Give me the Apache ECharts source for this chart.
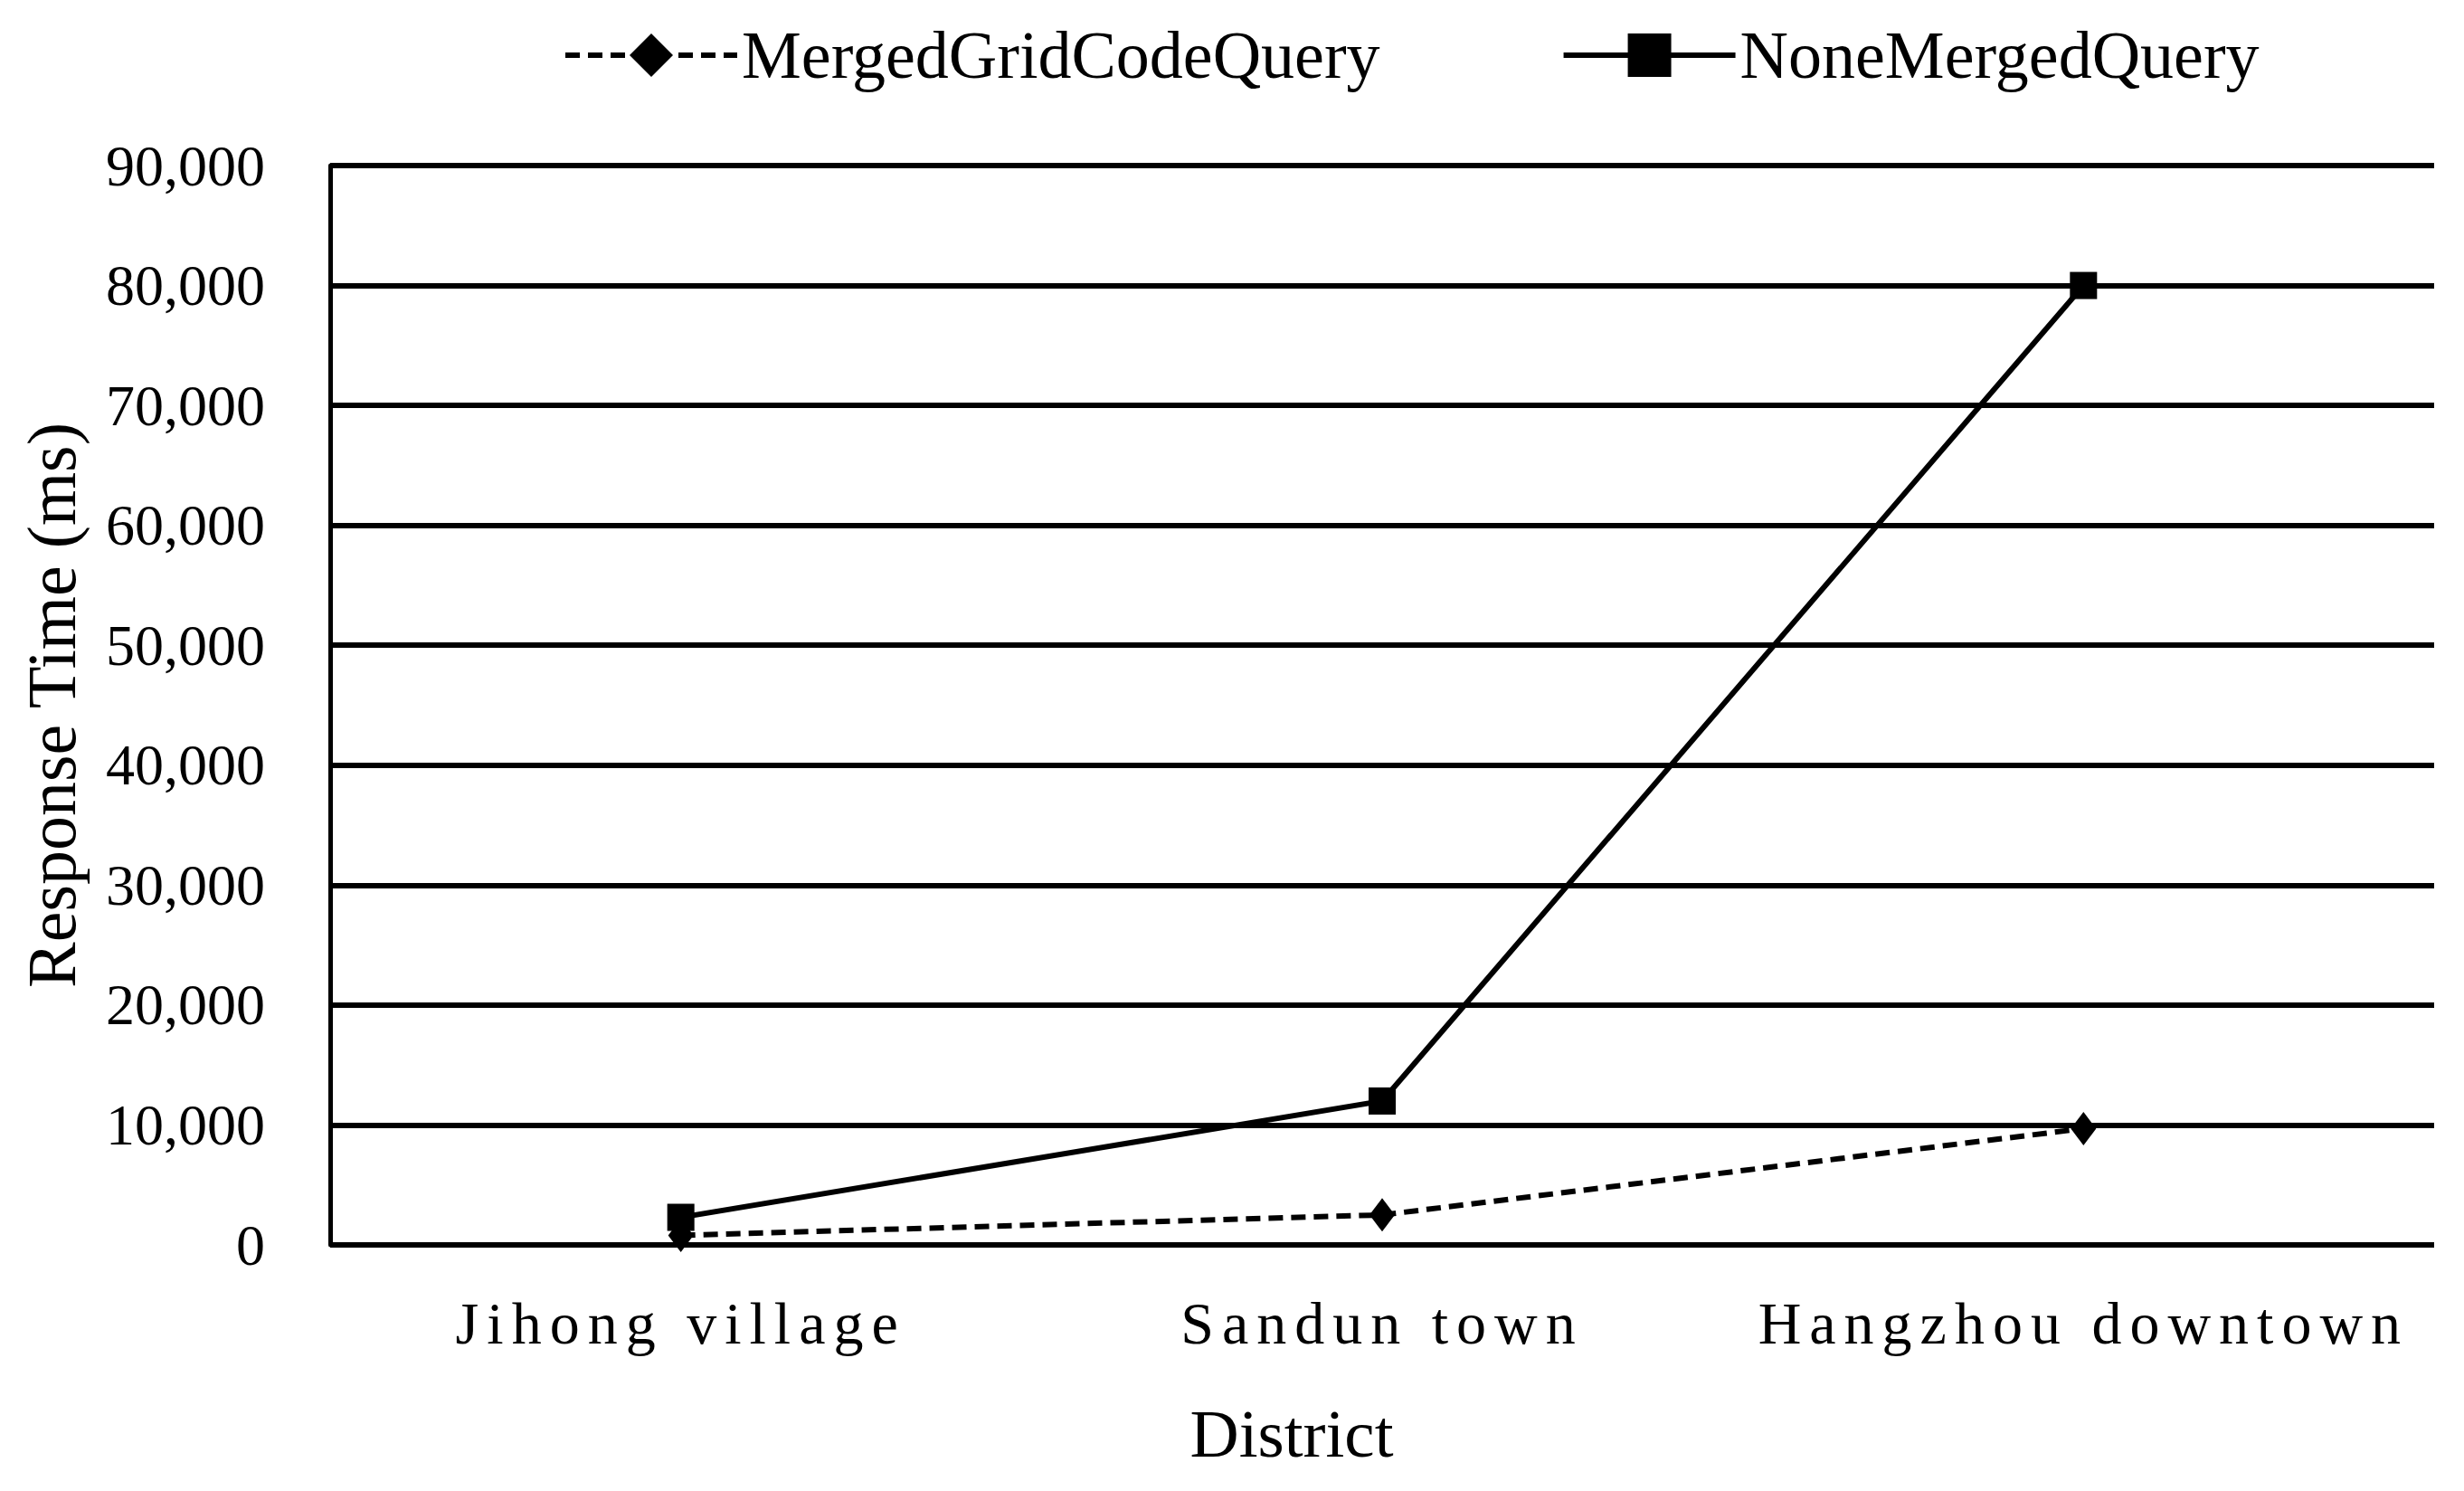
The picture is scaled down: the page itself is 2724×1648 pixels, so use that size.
<!DOCTYPE html>
<html>
<head>
<meta charset="utf-8">
<script src="https://cdn.jsdelivr.net/npm/echarts@6/dist/echarts.min.js"></script>
<style>
html,body{margin:0;padding:0;background:#fff;}
#chart{width:2724px;height:1648px;}
</style>
</head>
<body>
<div id="chart"></div>
<script>
const categories = ['Jihong village', 'Sandun town', 'Hangzhou downtown'];
const mergedGridCodeQuery = [800, 2500, 9700];
const noneMergedQuery = [2300, 12000, 80000];
const seriesNames = ['MergedGridCodeQuery', 'NoneMergedQuery'];
const yAxisTitle = 'Response Time (ms)';
const xAxisTitle = 'District';

const FONT = '"Liberation Serif", "Times New Roman", serif';
const chart = echarts.init(document.getElementById('chart'), null, {renderer: 'svg'});

chart.setOption({
  backgroundColor: '#ffffff',
  animation: false,
  legend: {
    left: 617,
    top: 19,
    itemWidth: 190,
    itemHeight: 60,
    itemGap: 200,
    lineStyle: {width: 6},
    textStyle: {fontFamily: FONT, fontSize: 74, color: '#000'},
    data: seriesNames
  },
  grid: {
    left: 365,
    right: 33,
    top: 183,
    bottom: 272,
    containLabel: false,
    outerBoundsMode: 'none'
  },
  xAxis: {
    type: 'category',
    data: categories,
    boundaryGap: true,
    axisLine: {show: false},
    axisTick: {show: false},
    axisLabel: {fontFamily: FONT, fontSize: 66, color: '#000', margin: 53},
    name: xAxisTitle,
    nameLocation: 'middle',
    nameGap: 171,
    nameTextStyle: {fontFamily: FONT, fontSize: 75, color: '#000', padding: [0, 200, 0, 0]}
  },
  yAxis: {
    type: 'value',
    min: 0,
    max: 90000,
    interval: 10000,
    axisLine: {show: true, lineStyle: {color: '#000', width: 5}},
    axisTick: {show: false},
    axisLabel: {
      fontFamily: FONT, fontSize: 64, color: '#000', margin: 72,
      formatter: v => v.toLocaleString('en-US')
    },
    splitLine: {show: true, lineStyle: {color: '#000', width: 6}},
    name: yAxisTitle,
    nameLocation: 'middle',
    nameGap: 270,
    nameTextStyle: {fontFamily: FONT, fontSize: 76, color: '#000'}
  },
  series: [
    {
      name: seriesNames[0],
      type: 'line',
      data: mergedGridCodeQuery,
      symbol: 'diamond',
      symbolSize: [28, 37],
      lineStyle: {color: '#000', width: 6, type: [16, 9]},
      itemStyle: {color: '#000'},
      z: 3
    },
    {
      name: seriesNames[1],
      type: 'line',
      data: noneMergedQuery,
      symbol: 'rect',
      symbolSize: 30,
      lineStyle: {color: '#000', width: 6, type: 'solid'},
      itemStyle: {color: '#000'},
      z: 4
    }
  ]
});

// widen category labels like the reference (letter-spaced text)
document.querySelectorAll('#chart text').forEach(t => {
  if (categories.indexOf(t.textContent.trim()) >= 0) {
    t.style.letterSpacing = '9px';
  }
});
</script>
</body>
</html>
